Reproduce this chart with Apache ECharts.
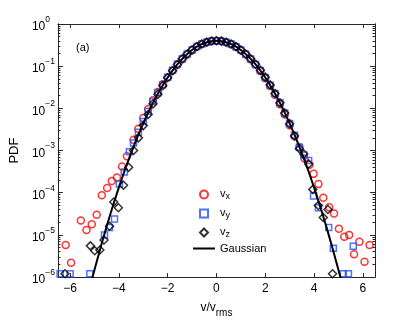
<!DOCTYPE html>
<html>
<head>
<meta charset="utf-8">
<script src="https://cdn.jsdelivr.net/npm/echarts@6/dist/echarts.min.js"></script>
<style>
    html, body { margin: 0; padding: 0; background: #fff; }
    #chart { width: 415px; height: 323px; }
</style>
</head>
<body>
<div id="chart"></div>
<script>
// tick labels
var xTicks = [-6, -4, -2, 0, 2, 4, 6];

// bins of the central part, shared by the three components
var centerX = [-3.4, -3.2, -3.0, -2.8, -2.6, -2.4, -2.2, -2.0, -1.8, -1.6, -1.4, -1.2, -1.0, -0.8, -0.6, -0.4, -0.2, 0,
    0.2, 0.4, 0.6, 0.8, 1.0, 1.2, 1.4, 1.6, 1.8, 2.0, 2.2, 2.4, 2.6, 2.8, 3.0, 3.2, 3.4];

// v_x (red circles)
var vxLeft = [[-6.18, 5.8e-6], [-5.96, 2.2e-6], [-5.56, 2.2e-5], [-5.33, 1.3e-5], [-5.11, 1.8e-5], [-4.91, 3.0e-5],
    [-4.70, 8.7e-5], [-4.48, 1.3e-4], [-4.29, 1.9e-4], [-4.08, 2.3e-4], [-3.87, 4.2e-4], [-3.67, 7.3e-4]];
var vxCenter = [1.8e-3, 3.3e-3, 5.9e-3, 9.6e-3, 1.55e-2, 2.45e-2, 3.75e-2, 5.5e-2, 7.9e-2, 0.108, 0.146, 0.190, 0.238, 0.288,
    0.334, 0.371, 0.394, 0.402, 0.393, 0.368, 0.332, 0.287, 0.240, 0.191, 0.147, 0.109, 7.7e-2, 5.2e-2, 3.4e-2, 2.1e-2,
    1.25e-2, 7.2e-3, 4.0e-3, 2.2e-3, 1.2e-3];
var vxRight = [[3.61, 6.5e-4], [3.81, 4.6e-4], [3.98, 2.8e-4], [4.18, 1.6e-4], [4.38, 7.6e-5], [4.62, 4.5e-5], [4.82, 3.2e-5],
    [5.02, 1.4e-5], [5.24, 9.1e-6], [5.44, 1.0e-5], [5.64, 3.5e-6], [5.86, 6.9e-6], [6.07, 2.3e-6], [6.28, 5.8e-6]];

// v_y (blue squares)
var vyLeft = [[-6.41, 1.2e-6], [-6.0, 1.2e-6], [-5.19, 1.2e-6], [-4.59, 1.0e-5], [-4.39, 1.5e-5], [-4.18, 2.4e-5],
    [-3.98, 1.6e-4], [-3.78, 3.1e-4], [-3.57, 9.4e-4]];
var vyCenter = [1.5e-3, 2.7e-3, 4.9e-3, 8.5e-3, 1.45e-2, 2.35e-2, 3.65e-2, 5.5e-2, 8.0e-2, 0.112, 0.150, 0.194, 0.243, 0.291,
    0.335, 0.370, 0.393, 0.400, 0.392, 0.369, 0.334, 0.290, 0.242, 0.193, 0.149, 0.110, 7.9e-2, 5.4e-2, 3.55e-2, 2.25e-2,
    1.35e-2, 7.8e-3, 4.4e-3, 2.3e-3, 1.2e-3];
var vyRight = [[3.58, 7.8e-4], [3.78, 5.8e-4], [3.98, 8.4e-5], [4.18, 4.4e-5], [4.60, 1.5e-5], [4.79, 4.8e-6],
    [5.20, 1.2e-6], [5.41, 1.2e-6], [5.61, 5.4e-6]];

// v_z (black diamonds)
var vzLeft = [[-6.21, 1.2e-6], [-5.17, 5.5e-6], [-4.99, 4.2e-6], [-4.78, 4.4e-6], [-4.61, 7.6e-6], [-4.38, 1.6e-5],
    [-4.21, 6.0e-5], [-4.02, 4.4e-5], [-3.81, 1.5e-4], [-3.60, 4.0e-4]];
var vzCenter = [1.0e-3, 2.0e-3, 3.9e-3, 7.2e-3, 1.28e-2, 2.15e-2, 3.45e-2, 5.3e-2, 7.8e-2, 0.110, 0.150, 0.195, 0.244, 0.292,
    0.336, 0.371, 0.394, 0.401, 0.393, 0.370, 0.335, 0.291, 0.243, 0.194, 0.150, 0.111, 8.0e-2, 5.5e-2, 3.6e-2, 2.25e-2,
    1.35e-2, 7.8e-3, 4.3e-3, 2.2e-3, 1.1e-3];
var vzRight = [[3.58, 8.3e-4], [3.78, 4.8e-4], [3.95, 1.2e-4], [4.18, 5.0e-5], [4.38, 2.6e-5], [4.57, 4.0e-5], [4.76, 1.2e-6]];

// Gaussian reference curve
var gaussX = [-5.1, -5.0, -4.75, -4.5, -4.25, -4.0, -3.75, -3.5, -3.25, -3.0, -2.75, -2.5, -2.25, -2.0, -1.75, -1.5, -1.25,
    -1.0, -0.75, -0.5, -0.25, 0, 0.25, 0.5, 0.75, 1.0, 1.25, 1.5, 1.75, 2.0, 2.25, 2.5, 2.75, 3.0, 3.25, 3.5, 3.75, 4.0,
    4.25, 4.5, 4.75, 5.0, 5.1];
var gaussY = [8.97e-7, 1.49e-6, 5.03e-6, 1.60e-5, 4.77e-5, 1.34e-4, 3.53e-4, 8.73e-4, 2.03e-3, 4.43e-3, 9.09e-3, 1.75e-2,
    3.17e-2, 5.40e-2, 8.63e-2, 0.1295, 0.1826, 0.2420, 0.3011, 0.3521, 0.3867, 0.3989, 0.3867, 0.3521, 0.3011, 0.2420,
    0.1826, 0.1295, 8.63e-2, 5.40e-2, 3.17e-2, 1.75e-2, 9.09e-3, 4.43e-3, 2.03e-3, 8.73e-4, 3.53e-4, 1.34e-4, 4.77e-5,
    1.60e-5, 5.03e-6, 1.49e-6, 8.97e-7];

function joinData(left, center, right) {
    var out = left.slice()
    for (var i = 0; i < center.length; i++) out.push([centerX[i], center[i]])
    return out.concat(right)
}
function pairs(xs, ys) {
    var out = []
    for (var i = 0; i < xs.length; i++) out.push([xs[i], ys[i]])
    return out
}
function minus(v) {
    return v < 0 ? '\u2212' + (-v) : '' + v
}

// minor ticks of the log axis (2..9 in each decade)
var minorY = []
for (var e = -6; e < 0; e++) {
    for (var k = 2; k <= 9; k++) minorY.push(k * Math.pow(10, e))
}
var majorY = [1e-6, 1e-5, 1e-4, 1e-3, 1e-2, 1e-1, 1]

var FONT = 'Liberation Sans'
var AXC = '#262626'

var chart = echarts.init(document.getElementById('chart'))

var yBase = {
    type: 'log',
    logBase: 10,
    min: 1e-6,
    max: 1,
    axisLine: { show: true, onZero: false, lineStyle: { color: AXC, width: 1 } },
    splitLine: { show: false }
}

var option = {
    animation: false,
    backgroundColor: '#fff',
    textStyle: { fontFamily: FONT },
    grid: { left: 54, right: 40, top: 24, bottom: 44, containLabel: false },
    title: {
        text: '(a)',
        left: 71,
        top: 37,
        textStyle: { fontFamily: FONT, fontSize: 11, fontWeight: 'normal', color: '#000' }
    },
    legend: {
        orient: 'vertical',
        left: 188,
        top: 181,
        itemWidth: 22,
        itemHeight: 8,
        itemGap: 4,
        symbolKeepAspect: true,
        data: [
            { name: 'vx', icon: 'circle' },
            { name: 'vy', icon: 'path://M0,0L10,0L10,10L0,10Z' },
            { name: 'vz', icon: 'path://M5,0L10,5L5,10L0,5Z' },
            { name: 'Gaussian', icon: 'path://M0,0L110,0L110,10L0,10Z' }
        ],
        formatter: function (name) {
            if (name === 'Gaussian') return '{g|Gaussian}'
            return '{b|v}{s|' + name.charAt(1) + '}'
        },
        textStyle: {
            fontFamily: FONT,
            color: '#000',
            rich: {
                b: { fontSize: 11, fontFamily: FONT, lineHeight: 13, verticalAlign: 'top' },
                s: { fontSize: 9, fontFamily: FONT, lineHeight: 13, verticalAlign: 'bottom', padding: [6, 0, 0, 0] },
                g: { fontSize: 11, fontFamily: FONT, lineHeight: 13 }
            }
        }
    },
    xAxis: [
        {
            type: 'value',
            min: -6.5,
            max: 6.5,
            name: '{a|v/v}{b|rms}',
            nameLocation: 'middle',
            nameGap: 19,
            nameTextStyle: {
                rich: {
                    a: { fontSize: 12, fontFamily: FONT, color: '#000', lineHeight: 16, verticalAlign: 'top' },
                    b: { fontSize: 10, fontFamily: FONT, color: '#000', lineHeight: 16, verticalAlign: 'bottom', padding: [8, 0, 0, 0] }
                }
            },
            axisLine: { show: true, onZero: false, lineStyle: { color: AXC, width: 1 } },
            axisTick: { show: true, inside: true, length: 4, customValues: xTicks, lineStyle: { color: AXC } },
            axisLabel: {
                customValues: xTicks,
                margin: 6,
                fontSize: 12,
                fontFamily: FONT,
                color: '#000',
                formatter: minus
            },
            splitLine: { show: false }
        },
        {
            type: 'value',
            position: 'top',
            min: -6.5,
            max: 6.5,
            axisLine: { show: true, onZero: false, lineStyle: { color: AXC, width: 1 } },
            axisTick: { show: true, inside: true, length: 4, customValues: xTicks, lineStyle: { color: AXC } },
            axisLabel: { show: false },
            splitLine: { show: false }
        }
    ],
    yAxis: [
        Object.assign({}, yBase, {
            position: 'left',
            name: 'PDF',
            nameLocation: 'middle',
            nameGap: 36,
            nameTextStyle: { fontSize: 13, fontFamily: FONT, color: '#000' },
            axisTick: { show: true, inside: true, length: 5, customValues: majorY, lineStyle: { color: AXC } },
            axisLabel: {
                customValues: majorY,
                align: 'left',
                margin: 26,
                formatter: function (v) {
                    var ex = Math.round(Math.log(v) / Math.LN10)
                    return '{b|10}{s|' + minus(ex) + '}'
                },
                rich: {
                    b: { fontSize: 12, fontFamily: FONT, color: '#000', lineHeight: 18, verticalAlign: 'bottom', padding: [6, 0, 0, 0] },
                    s: { fontSize: 8.5, fontFamily: FONT, color: '#000', lineHeight: 18, verticalAlign: 'top' }
                }
            }
        }),
        Object.assign({}, yBase, {
            position: 'left',
            axisTick: { show: true, inside: true, length: 2.5, customValues: minorY, lineStyle: { color: AXC } },
            axisLabel: { show: false }
        }),
        Object.assign({}, yBase, {
            position: 'right',
            axisTick: { show: true, inside: true, length: 5, customValues: majorY, lineStyle: { color: AXC } },
            axisLabel: { show: false }
        }),
        Object.assign({}, yBase, {
            position: 'right',
            axisTick: { show: true, inside: true, length: 2.5, customValues: minorY, lineStyle: { color: AXC } },
            axisLabel: { show: false }
        })
    ],
    series: [
        {
            name: 'vx',
            type: 'scatter',
            symbol: 'circle',
            symbolSize: 7,
            itemStyle: { color: 'rgba(255,255,255,0)', borderColor: '#ff0000', borderWidth: 1.5 },
            data: joinData(vxLeft, vxCenter, vxRight),
            z: 2
        },
        {
            name: 'vy',
            type: 'scatter',
            symbol: 'rect',
            symbolSize: 6,
            itemStyle: { color: 'rgba(255,255,255,0)', borderColor: '#1f4fff', borderWidth: 1.5 },
            data: joinData(vyLeft, vyCenter, vyRight),
            z: 3
        },
        {
            name: 'vz',
            type: 'scatter',
            symbol: 'diamond',
            symbolSize: 8,
            itemStyle: { color: 'rgba(255,255,255,0)', borderColor: '#000', borderWidth: 1.5 },
            data: joinData(vzLeft, vzCenter, vzRight),
            z: 4
        },
        {
            name: 'Gaussian',
            type: 'line',
            symbol: 'none',
            showSymbol: false,
            smooth: 0.2,
            clip: true,
            lineStyle: { color: '#000', width: 2 },
            itemStyle: { color: '#000' },
            data: pairs(gaussX, gaussY),
            z: 5
        }
    ]
}

chart.setOption(option)
</script>
</body>
</html>
